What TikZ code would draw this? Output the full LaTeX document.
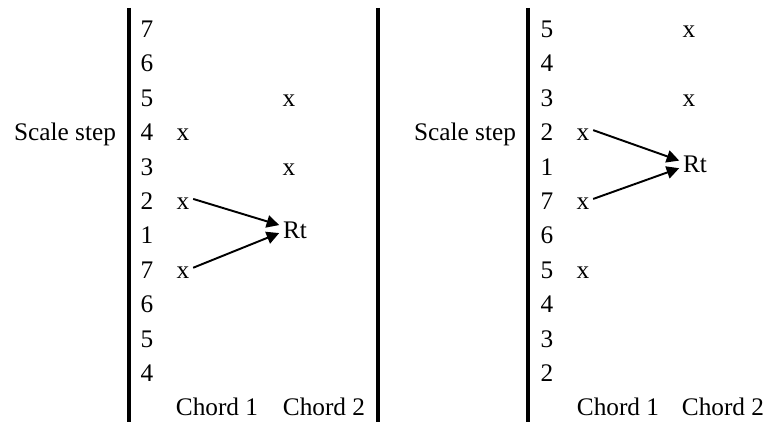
\documentclass[tikz,border=0pt]{standalone}
\usepackage{fontspec}
\setmainfont{Liberation Serif}
\usetikzlibrary{arrows.meta}

\begin{document}
\begin{tikzpicture}[x=0.02cm, y=-0.02cm,
    font=\fontsize{14.4}{17}\selectfont,
    txt/.style={anchor=base, inner sep=2pt},
    bar/.style={line width=2pt},
    lead/.style={-{Triangle[length=2.5mm,width=2.5mm]}, line width=1.1pt}]

\useasboundingbox (0,0) rectangle (768,422);

% Bars
\draw[bar] (129,8) -- (129,422);
\draw[bar] (378,8) -- (378,422);
\draw[bar] (528,8) -- (528,422);

% Left panel
\foreach \s [count=\i from 0] in {7,6,5,4,3,2,1,7,6,5,4}
  \node[txt] (L\i) at (147,{37.5+34.4*\i}) {\s};

\node[txt] (Lstep) at (65,140.7) {Scale step};

\node[txt] (Lx3) at (183,140.7) {x};
\node[txt] (Lx5) at (183,209.5) {x};
\node[txt] (Lx7) at (183,278.3) {x};

\node[txt] (Ly2) at (289,106.3) {x};
\node[txt] (Ly4) at (289,175.1) {x};
\node[txt] (LRt) at (295,239) {Rt};

\node[txt] (Lc1) at (217,416) {Chord 1};
\node[txt] (Lc2) at (324,416) {Chord 2};

\draw[lead] (Lx5.25) -- (LRt.160);
\draw[lead] (Lx7.25) -- (LRt.188);

% Right panel
\foreach \s [count=\i from 0] in {5,4,3,2,1,7,6,5,4,3,2}
  \node[txt] (R\i) at (547,{37.5+34.4*\i}) {\s};

\node[txt] (Rstep) at (465,140.7) {Scale step};

\node[txt] (Rx3) at (583,140.7) {x};
\node[txt] (Rx5) at (583,209.5) {x};
\node[txt] (Rx7) at (583,278.3) {x};

\node[txt] (Ry0) at (689,37.5) {x};
\node[txt] (Ry2) at (689,106.3) {x};
\node[txt] (RRt) at (695,173) {Rt};

\node[txt] (Rc1) at (618,416) {Chord 1};
\node[txt] (Rc2) at (723,416) {Chord 2};

\draw[lead] (Rx3.25) -- (RRt.165);
\draw[lead] (Rx5.25) -- (RRt.192);

\end{tikzpicture}
\end{document}
